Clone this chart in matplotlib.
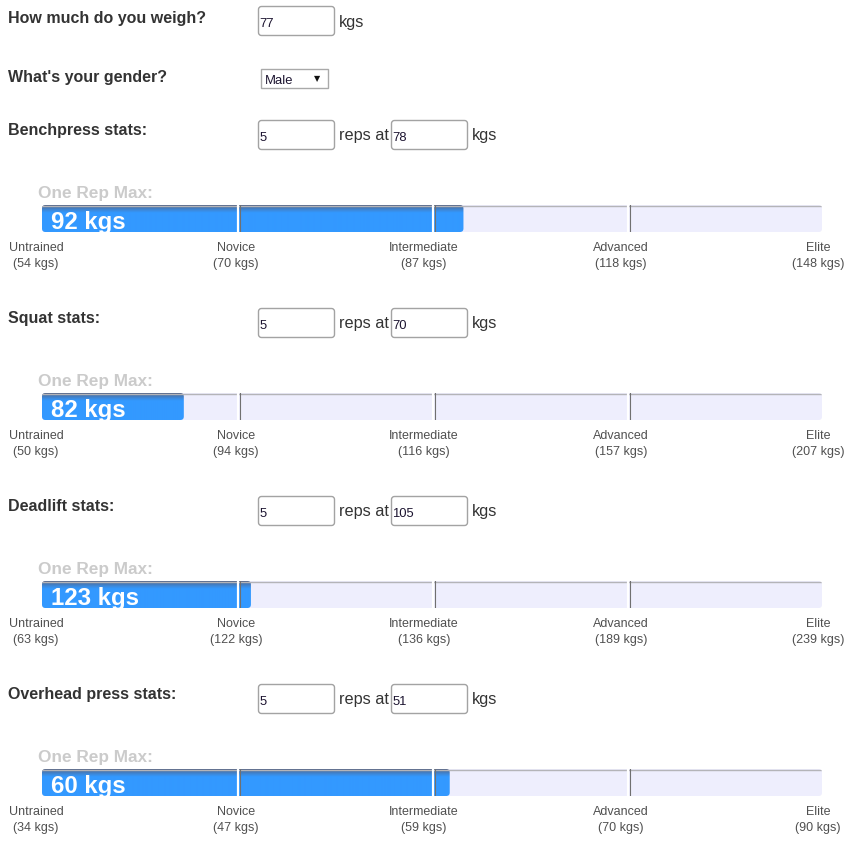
import matplotlib
matplotlib.use('Agg')
import matplotlib.pyplot as plt
from matplotlib.patches import FancyBboxPatch, Rectangle
import numpy as np

# ---------------- data ----------------
body_weight = 77
gender = "Male"
lifts = ["Benchpress", "Squat", "Deadlift", "Overhead press"]
reps = [5, 5, 5, 5]
lift_weights = [78, 70, 105, 51]
one_rep_max = [92, 82, 123, 60]
levels = ["Untrained", "Novice", "Intermediate", "Advanced", "Elite"]
standards = [
    [54, 70, 87, 118, 148],
    [50, 94, 116, 157, 207],
    [63, 122, 136, 189, 239],
    [34, 47, 59, 70, 90],
]

# ---------------- layout ----------------
W, H = 865, 853
PT = 72 / 100.0  # px -> pt at dpi 100
plt.rcParams['font.family'] = ['Liberation Sans', 'DejaVu Sans']

fig = plt.figure(figsize=(W / 100, H / 100), dpi=100)
fig.patch.set_facecolor('white')
ax = fig.add_axes([0, 0, 1, 1])
ax.set_xlim(0, W)
ax.set_ylim(H, 0)
ax.axis('off')

LABEL_C = '#333333'
LEVEL_C = '#505050'


def input_box(x0, x1, y0, y1, text):
    ax.add_patch(FancyBboxPatch((x0 + 0.5, y0 + 0.5), x1 - x0 - 1, y1 - y0 - 1,
                                boxstyle="round,pad=0,rounding_size=3",
                                fc='white', ec='#a3a3a3', lw=1.0))
    ax.text(x0 + 1.5, y1 - 10, text, fontsize=13 * PT, ha='left',
            va='baseline', color='#1c1430')


# weight row
ax.text(7.5, 23, "How much do you weigh?", fontsize=16 * PT, fontweight='bold',
        color=LABEL_C, ha='left', va='baseline')
input_box(258, 335, 7, 37, str(body_weight))
ax.text(339, 27, "kgs", fontsize=16.3 * PT, color=LABEL_C, ha='left', va='baseline')

# gender row
ax.text(7.5, 82, "What's your gender?", fontsize=16 * PT, fontweight='bold',
        color=LABEL_C, ha='left', va='baseline')
ax.add_patch(Rectangle((260.5, 69.5), 67, 19, fc='white', ec='#a9a9a9', lw=1.0))
ax.text(264.5, 83.5, gender, fontsize=13 * PT, color='#1c1430', ha='left', va='baseline')
ax.text(317.5, 79, "\u25bc", fontsize=8 * PT, color='#111111', ha='center', va='center',
        family=['DejaVu Sans'])

# lift rows
row_step = 188
label_cx = [36, 236, 424, 621, 818]
bar_x0, bar_x1 = 42, 822

for i, lift in enumerate(lifts):
    off = row_step * i
    ax.text(7.5, 135 + off, f"{lift} stats:", fontsize=16 * PT, fontweight='bold',
            color=LABEL_C, ha='left', va='baseline')
    input_box(258, 335, 121 + off, 151 + off, str(reps[i]))
    ax.text(339, 140 + off, "reps at", fontsize=16.3 * PT, color=LABEL_C,
            ha='left', va='baseline')
    input_box(391, 468, 121 + off, 151 + off, str(lift_weights[i]))
    ax.text(472, 140 + off, "kgs", fontsize=16.3 * PT, color=LABEL_C,
            ha='left', va='baseline')

    ax.text(38, 198 + off, "One Rep Max:", fontsize=17.2 * PT, fontweight='bold',
            color='#cbcbcb', ha='left', va='baseline')

    # bar axes: x in "level index" units 0..4
    by0, by1 = 206 + off, 233 + off
    bax = fig.add_axes([bar_x0 / W, 1 - by1 / H, (bar_x1 - bar_x0) / W, (by1 - by0) / H])
    bax.set_xlim(0, 4)
    bax.set_ylim(0, 1)
    bax.axis('off')

    # rounded background (clip shape drawn in pixel coords of the main axes)
    bg_clip = FancyBboxPatch((bar_x0, by0), bar_x1 - bar_x0, by1 - by0,
                             boxstyle="round,pad=0,rounding_size=3",
                             transform=ax.transData, fc='none', ec='none')
    bg = Rectangle((0, 0), 4, 1, fc='#eeeefd', ec='none', zorder=0)
    bax.add_patch(bg)
    bg.set_clip_path(bg_clip)

    fill = float(np.interp(one_rep_max[i], standards[i], np.arange(len(levels))))
    n = 54
    t = np.linspace(0, 1, n)  # 0 top -> 1 bottom
    top_c = np.array([0.33, 0.38, 0.50])
    bot_c = np.array([0.20, 0.60, 1.00])
    w = np.clip(t / 0.28, 0, 1)[:, None] ** 0.8
    grad = top_c * (1 - w) + bot_c * w
    im = bax.imshow(grad[:, None, :], extent=[0, fill, 0, 1], aspect='auto',
                    interpolation='bilinear', zorder=1)
    fill_px = bar_x0 + fill / 4.0 * (bar_x1 - bar_x0)
    fill_clip = FancyBboxPatch((bar_x0, by0), fill_px - bar_x0, by1 - by0,
                               boxstyle="round,pad=0,rounding_size=3.5",
                               transform=ax.transData, fc='none', ec='none')
    im.set_clip_path(fill_clip)

    # top border
    border = bax.axhline(1 - 0.5 / 27, color='#b4b4b8', lw=1.0, zorder=3)
    border.set_clip_path(bg_clip)
    px = 4.0 / (bar_x1 - bar_x0)
    for k in range(1, len(levels) - 1):
        bax.axvline(k + 1.0 * px, color='white', lw=2.2 * PT, zorder=4)
        bax.axvline(k + 3.2 * px, color='#707070', lw=1.1 * PT, zorder=4)
    bax.text(9 * px, 0.13, f"{one_rep_max[i]} kgs", fontsize=24 * PT,
             fontweight='bold', color='white', ha='left', va='baseline', zorder=5)

    for j, lv in enumerate(levels):
        ax.text(label_cx[j], 251 + off, lv, fontsize=12.5 * PT, color=LEVEL_C,
                ha='center', va='baseline')
        ax.text(label_cx[j], 267 + off, f"({standards[i][j]} kgs)", fontsize=12.5 * PT,
                color=LEVEL_C, ha='center', va='baseline')

fig.savefig('out.png', dpi=100, facecolor='white')
